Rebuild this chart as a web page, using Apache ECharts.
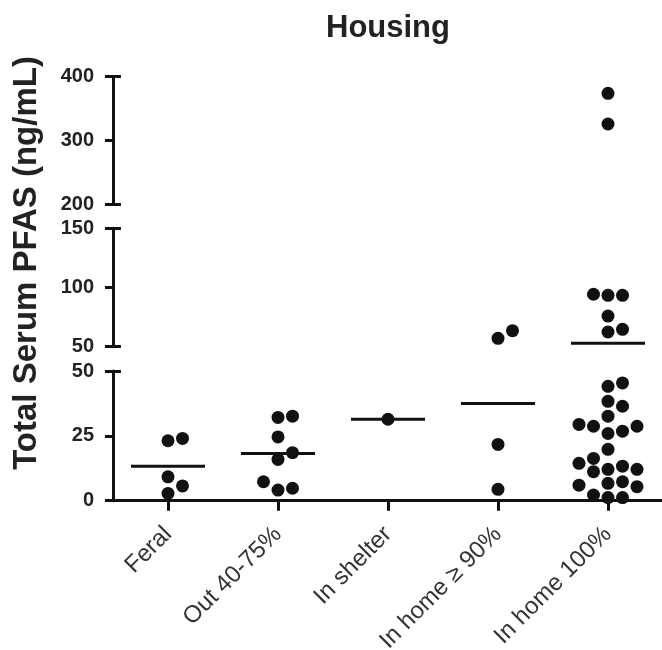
<!DOCTYPE html>
<html><head><meta charset="utf-8">
<script src="https://cdn.jsdelivr.net/npm/echarts@6/dist/echarts.min.js"></script>
<style>html,body{margin:0;padding:0;background:#fff}#c{width:662px;height:650px}</style>
</head><body><div id="c"></div>
<script>
// ---- data ----
const categories = ['Feral', 'Out 40-75%', 'In shelter', 'In home \u2265 90%', 'In home 100%'];
const feral = [2.8, 5.7, 9.2, 23.1, 24.0];
const outdoor = [4.1, 4.8, 7.3, 15.9, 18.5, 24.6, 32.1, 32.6];
const shelter = [31.4];
const home90 = [4.4, 21.7, 57.1, 63.5];
const home100 = [1.2, 1.2, 2.2, 5.4, 6.0, 6.7, 7.3, 11.2, 12.1, 12.1, 13.3, 14.4, 16.3, 19.8,
  25.9, 26.8, 28.7, 28.7, 29.4, 32.6, 36.4, 38.3, 44.1, 45.4,
  62.4, 64.7, 75.9, 93.4, 93.4, 94.3, 325.7, 373.9];
const means = [13.3, 18.2, 31.4, 37.5, 53.0];
// broken y axis: top, middle, bottom segments
const segMin = [200, 50, 0];
const segMax = [400, 150, 50];
const segInterval = [100, 50, 25];
const title = 'Housing';
const yTitle = 'Total Serum PFAS (ng/mL)';

// ---- layout ----
const groups = [feral, outdoor, shelter, home90, home100];
const gridTop = [76.7, 228.3, 371];
const gridH = [127.3, 118.4, 129.7];
const LEFT = 113, WIDTH = 550;
const FONT = '"Liberation Sans", Arial, Helvetica, sans-serif';
const INK = '#111';

function segOf(v) { return v > segMax[1] ? 0 : (v > segMax[2] ? 1 : 2); }

const chart = echarts.init(document.getElementById('c'), null, { renderer: 'canvas' });

function buildSeries(offsets) {
  const series = [];
  for (let s = 0; s < 3; s++) {
    const meanData = [];
    means.forEach((m, ci) => { if (segOf(m) === s) meanData.push([ci, m]); });
    series.push({
      type: 'scatter', xAxisIndex: s, yAxisIndex: s, z: 2,
      symbol: 'rect', symbolSize: [74, 3],
      itemStyle: { color: INK, opacity: 1 }, silent: true,
      data: meanData
    });
    const pd = [];
    groups.forEach((vals, ci) => {
      vals.forEach((v, k) => {
        if (segOf(v) === s) {
          const off = offsets ? offsets[ci][k] : 0;
          pd.push({ value: [ci, v], symbolOffset: [off, 0] });
        }
      });
    });
    series.push({
      type: 'scatter', xAxisIndex: s, yAxisIndex: s, z: 3,
      symbol: 'circle', symbolSize: 13,
      itemStyle: { color: INK, opacity: 1 }, silent: true,
      data: pd
    });
  }
  return series;
}

const grids = [0, 1, 2].map(s => ({
  left: LEFT, width: WIDTH, top: gridTop[s], height: gridH[s],
  containLabel: false, outerBoundsMode: 'none'
}));
const xAxes = [0, 1, 2].map(s => ({
  type: 'category', gridIndex: s, data: categories, boundaryGap: true,
  show: s === 2,
  axisLine: { show: true, lineStyle: { color: INK, width: 3 } },
  axisTick: { show: true, alignWithLabel: true, length: 10, lineStyle: { color: INK, width: 3 } },
  axisLabel: { rotate: 45, fontSize: 24, color: '#333', margin: 30, fontFamily: FONT, interval: 0 },
  splitLine: { show: false }
}));
const yMain = [0, 1, 2].map(s => ({
  type: 'value', gridIndex: s, position: 'left', min: segMin[s], max: segMax[s], interval: segInterval[s],
  axisLine: { show: true, lineStyle: { color: INK, width: 3 } },
  axisTick: { show: true, length: 8, lineStyle: { color: INK, width: 3 } },
  axisLabel: { fontSize: 20, fontWeight: 'bold', color: '#222', margin: 19, fontFamily: FONT },
  splitLine: { show: false }
}));
const yCaps = [0, 1, 2].map(s => ({
  type: 'value', gridIndex: s, position: 'left', offset: 0, min: segMin[s], max: segMax[s], interval: segInterval[s],
  axisLine: { show: false },
  axisTick: { show: true, inside: true, length: 8, lineStyle: { color: INK, width: 3 },
    customValues: s === 2 ? [segMax[s]] : [segMin[s], segMax[s]] },
  axisLabel: { show: false },
  splitLine: { show: false }
}));

const baseOption = {
  animation: false,
  backgroundColor: '#fff',
  grid: grids,
  xAxis: xAxes,
  yAxis: yMain.concat(yCaps),
  graphic: [
    { type: 'text', x: 388, y: 28, style: { text: title, font: 'bold 31px ' + FONT, fill: '#222', align: 'center', verticalAlign: 'middle' } },
    { type: 'text', x: 27, y: 263, rotation: Math.PI / 2, style: { text: yTitle, font: 'bold 33px ' + FONT, fill: '#222', align: 'center', verticalAlign: 'middle' } }
  ],
  series: buildSeries(null)
};
chart.setOption(baseOption);

// beeswarm-style column placement computed from pixel positions
const STEP = 14.5, DIAM = 13;
const offsets = groups.map((vals, ci) => {
  const pts = vals.map((v, k) => ({ v, k, py: chart.convertToPixel({ gridIndex: segOf(v) }, [ci, v])[1] }));
  pts.sort((a, b) => a.v - b.v);
  const placed = [];
  const res = new Array(vals.length).fill(0);
  const order = [0, 1, -1, 2, -2, 3, -3];
  pts.forEach(p => {
    for (const c of order) {
      const ok = placed.every(q => {
        const dx = (q.c - c) * STEP, dy = q.py - p.py;
        return Math.sqrt(dx * dx + dy * dy) >= DIAM;
      });
      if (ok) { placed.push({ c, py: p.py }); res[p.k] = c * STEP; break; }
    }
  });
  return res;
});
chart.setOption({ series: buildSeries(offsets) });
</script></body></html>
